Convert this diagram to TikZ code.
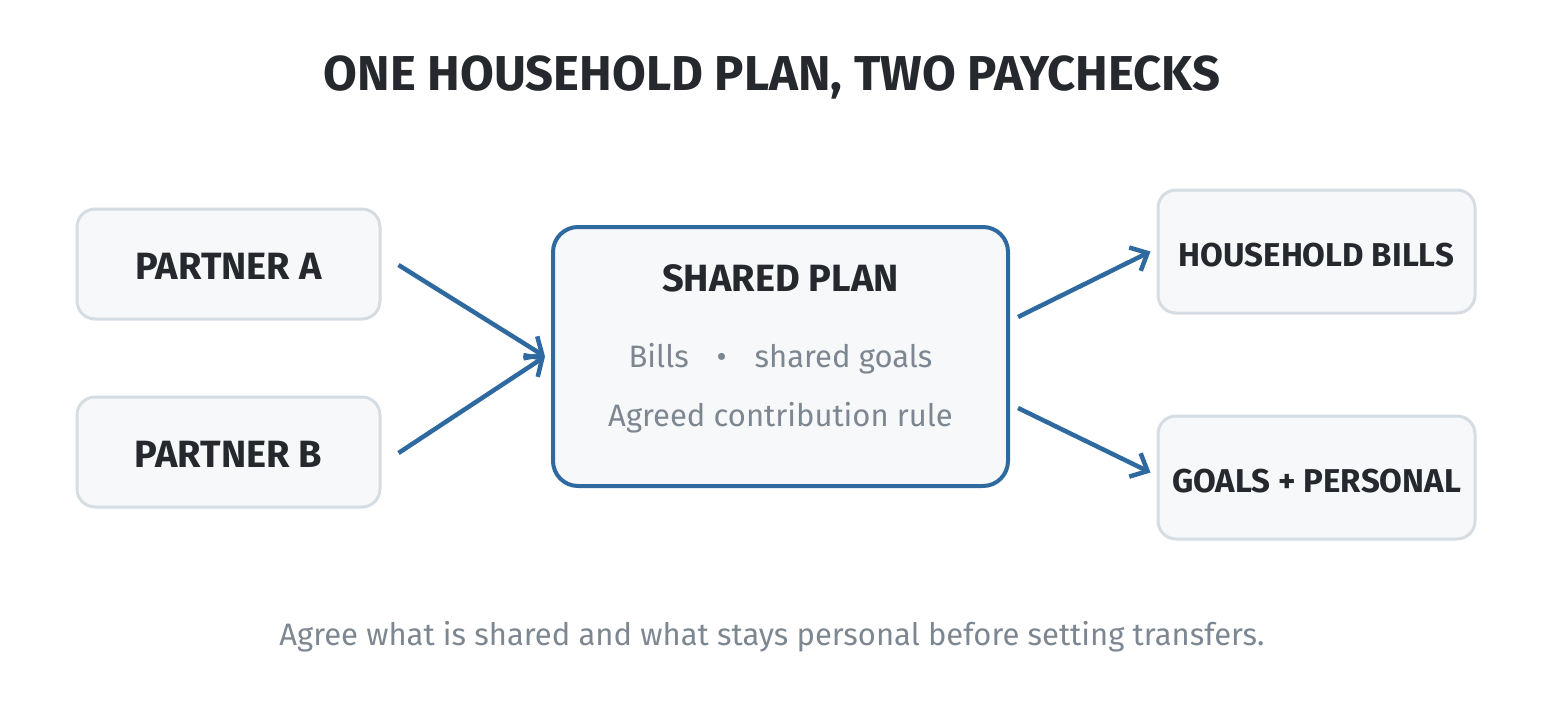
\documentclass[tikz,border=0pt]{standalone}
\usepackage{fontspec}
\setmainfont{Fira Sans}
\usetikzlibrary{arrows.meta,positioning,calc}
\definecolor{inkdark}{HTML}{25292E}
\definecolor{inkgray}{HTML}{7D8791}
\definecolor{cardfill}{HTML}{F7F8FA}
\definecolor{cardline}{HTML}{D5DCE2}
\definecolor{planblue}{HTML}{2E6A9F}
\tikzset{
  card/.style={
    rectangle, rounded corners=18pt, line width=3pt,
    draw=cardline, fill=cardfill, text=inkdark,
    minimum width=303pt, minimum height=110pt
  },
  %
  outcard/.style={
    card, minimum width=317pt, minimum height=123pt
  },
  %
  planbox/.style={
    rectangle, rounded corners=25pt, line width=4pt,
    draw=planblue, fill=cardfill,
    minimum width=455pt, minimum height=259pt
  },
  %
  boldlabel/.style={
    text=inkdark, font=\bfseries\fontsize{38}{44}\selectfont
  },
  %
  graylabel/.style={
    text=inkgray, font=\fontsize{31}{36}\selectfont
  },
  %
  flow/.style={
    line width=4.5pt, draw=planblue,
    -{Straight Barb[length=14pt,width=26pt,line width=4.5pt]}
  }
}

\begin{document}
\begin{tikzpicture}[x=1pt,y=-1pt]
\useasboundingbox (0,0) rectangle (1546,720);

\node(title)[anchor=base, text=inkdark, font=\bfseries\fontsize{49}{56}\selectfont] at (772,90) {ONE HOUSEHOLD PLAN, TWO PAYCHECKS};

\node(parta)[card] at (228.5,264) {};
\node(partb)[card, below=75pt of parta] {};
\node[boldlabel, anchor=base] at ($(parta.center)+(0,15)$) {PARTNER A};
\node[boldlabel, anchor=base] at ($(partb.center)+(0,15)$) {PARTNER B};

\node(plan)[planbox] at (780.5,356.5) {};
\node(plantitle)[boldlabel, anchor=base] at ($(plan.center)+(0,-65)$) {SHARED PLAN};
\node(planitems)[graylabel, anchor=base] at ($(plan.center)+(0,11)$) {Bills\hspace{0.9em}\textbullet\hspace{0.9em}shared goals};
\node(planrule)[graylabel, anchor=base] at ($(plan.center)+(0,70)$) {Agreed contribution rule};

\node(bills)[outcard] at (1316.5,251.5) {};
\node(goals)[outcard, below=100pt of bills] {};
\node[boldlabel, anchor=base, font=\bfseries\fontsize{33}{38}\selectfont] at ($(bills.center)+(0,14.5)$) {HOUSEHOLD BILLS};
\node[boldlabel, anchor=base, font=\bfseries\fontsize{33}{38}\selectfont] at ($(goals.center)+(0,14.5)$) {GOALS + PERSONAL};

\draw[flow] ($(parta.east)+(17,1)$) -- ($(plan.west)+(-6,0)$);
\draw[flow] ($(partb.east)+(17,1)$) -- ($(plan.west)+(-6,0)$);
\draw[flow] ($(plan.east)+(8,-39.5)$) -- ($(bills.west)+(-6,0)$);
\draw[flow] ($(plan.east)+(8,51.5)$) -- ($(goals.west)+(-6,-5)$);

\node(footer)[graylabel, anchor=base] at (772,645) {Agree what is shared and what stays personal before setting transfers.};

\end{tikzpicture}
\end{document}
